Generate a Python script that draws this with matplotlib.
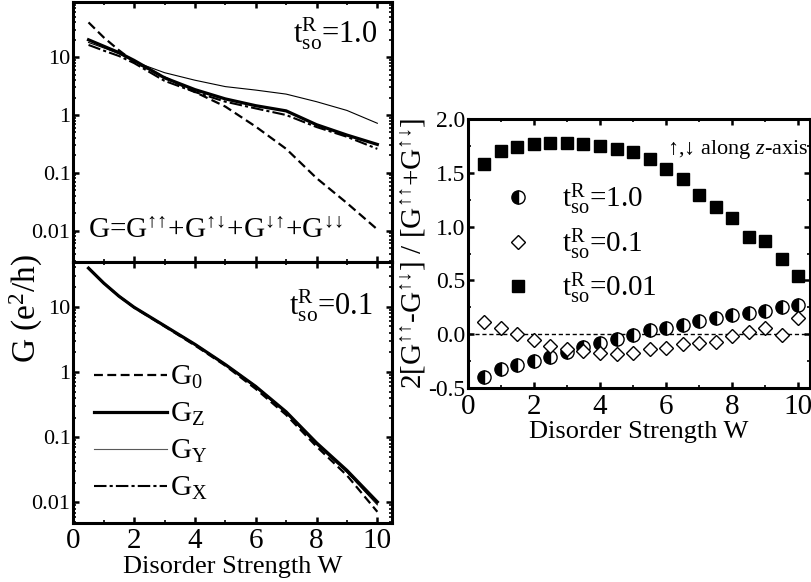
import matplotlib
matplotlib.use('Agg')
import matplotlib.pyplot as plt
import numpy as np
from matplotlib.ticker import FixedLocator, MultipleLocator, LogLocator, NullFormatter

plt.rcParams['font.family'] = 'Liberation Serif'
plt.rcParams['mathtext.fontset'] = 'custom'
plt.rcParams['mathtext.rm'] = 'Liberation Serif'
plt.rcParams['mathtext.it'] = 'Liberation Serif:italic'
plt.rcParams['mathtext.bf'] = 'Liberation Serif:bold'
plt.rcParams['axes.unicode_minus'] = False

# ---- left panels: conductance vs disorder ----
w_curve = [0.5, 1.0, 1.5, 2.0, 3.0, 4.0, 5.0, 6.0, 7.0, 8.0, 9.0, 10.0]

# t_so^R = 1.0
top_g0 = [40, 22, 13.2, 8.3, 4.5, 2.5, 1.4, 0.63, 0.26, 0.081, 0.03, 0.0105]
top_gz = [20, 15.5, 12, 8.8, 4.4, 2.75, 1.9, 1.45, 1.18, 0.68, 0.45, 0.31]
top_gy = [18, 14.5, 11.5, 8.4, 5.4, 4.0, 3.1, 2.7, 2.3, 1.7, 1.2, 0.72]
top_gx = [16.3, 13, 10.5, 7.9, 3.9, 2.5, 1.7, 1.3, 1.0, 0.62, 0.42, 0.26]

# t_so^R = 0.1
bot_g0 = [39, 23, 14.5, 9.7, 5.0, 2.55, 1.25, 0.55, 0.22, 0.072, 0.026, 0.0072]
bot_gz = [39, 23, 14.5, 9.8, 5.1, 2.65, 1.3, 0.6, 0.245, 0.082, 0.031, 0.0102]
bot_gy = [39, 23, 14.5, 9.8, 5.05, 2.6, 1.28, 0.58, 0.235, 0.077, 0.029, 0.0092]
bot_gx = [39, 23, 14.5, 9.8, 5.1, 2.65, 1.3, 0.6, 0.24, 0.08, 0.03, 0.0098]

# ---- right panel: spin polarisation ----
w_pts = [0.5, 1.0, 1.5, 2.0, 2.5, 3.0, 3.5, 4.0, 4.5, 5.0,
         5.5, 6.0, 6.5, 7.0, 7.5, 8.0, 8.5, 9.0, 9.5, 10.0]
p_t10 = [-0.40, -0.32, -0.285, -0.25, -0.21, -0.165, -0.115, -0.08, -0.04, -0.005,
         0.04, 0.06, 0.09, 0.125, 0.15, 0.175, 0.20, 0.22, 0.25, 0.27]
p_t01 = [0.115, 0.06, 0.0, -0.055, -0.11, -0.14, -0.155, -0.17, -0.18, -0.17,
         -0.14, -0.13, -0.095, -0.08, -0.07, -0.015, 0.025, 0.055, -0.005, 0.155]
p_t001 = [1.58, 1.705, 1.74, 1.767, 1.78, 1.78, 1.767, 1.75, 1.72, 1.69,
          1.63, 1.535, 1.44, 1.29, 1.185, 1.08, 0.90, 0.87, 0.70, 0.545]

fig = plt.figure(figsize=(8.12, 5.82), dpi=100)

ax_top = fig.add_axes([0.0903, 0.5503, 0.392, 0.4462])
ax_bot = fig.add_axes([0.0903, 0.1019, 0.392, 0.4485])
ax_r = fig.add_axes([0.576, 0.3333, 0.4215, 0.4622])


def style_log_axis(ax, ylo, yhi):
    ax.set_yscale('log')
    ax.set_xlim(0, 10.47)
    ax.set_ylim(ylo, yhi)
    ax.yaxis.set_major_locator(FixedLocator([0.01, 0.1, 1, 10]))
    ax.set_yticklabels(['0.01', '0.1', '1', '10'])
    ax.yaxis.set_minor_locator(LogLocator(base=10, subs=np.arange(2, 10)))
    ax.yaxis.set_minor_formatter(NullFormatter())
    ax.xaxis.set_major_locator(MultipleLocator(2))
    ax.xaxis.set_minor_locator(MultipleLocator(1))
    ax.tick_params(which='both', direction='in', top=True, right=True)
    ax.tick_params(which='major', length=4, width=1.8)
    ax.tick_params(which='minor', length=2.5, width=1.2)
    ax.tick_params(axis='y', labelsize=16, pad=2)
    ax.tick_params(axis='x', labelsize=21, pad=4)
    for s in ax.spines.values():
        s.set_linewidth(2.2)


def draw_curves(ax, g0, gz, gy, gx):
    ax.plot(w_curve, g0, color='black', lw=1.6, ls=(0, (4, 2)), label=r'G$_\mathrm{0}$')
    ax.plot(w_curve, gz, color='black', lw=2.3, label=r'G$_\mathrm{Z}$')
    ax.plot(w_curve, gy, color='black', lw=0.8, label=r'G$_\mathrm{Y}$')
    ax.plot(w_curve, gx, color='black', lw=1.5, ls=(0, (6, 1.5, 1.5, 1.5)), label=r'G$_\mathrm{X}$')


tso = r'$\mathrm{t}_{\mathrm{so}}^{\mathrm{R}}$'

style_log_axis(ax_top, 0.0029, 90)
draw_curves(ax_top, top_g0, top_gz, top_gy, top_gx)
ax_top.tick_params(axis='x', labelbottom=False)
ax_top.text(0.955, 0.95, tso + '=1.0', transform=ax_top.transAxes,
            ha='right', va='top', fontsize=22)
ax_top.text(0.045, 0.09, 'G=G$^{↑↑}$+G$^{↑↓}$+G$^{↓↑}$+G$^{↓↓}$',
            transform=ax_top.transAxes, ha='left', va='baseline', fontsize=21)

style_log_axis(ax_bot, 0.0049, 49)
draw_curves(ax_bot, bot_g0, bot_gz, bot_gy, bot_gx)
ax_bot.text(0.94, 0.90, tso + '=0.1', transform=ax_bot.transAxes,
            ha='right', va='top', fontsize=22)
ax_bot.set_xlabel('Disorder Strength W', fontsize=19, labelpad=1)
leg = ax_bot.legend(loc='lower left', bbox_to_anchor=(0.0, 0.0), frameon=False, fontsize=21,
                    handlelength=2.5, handletextpad=0.1, labelspacing=0.34, borderaxespad=0.3)
leg.get_lines()[2].set_color('0.35')

fig.text(0.032, 0.47, r'G (e$^2$/h)', rotation=90, ha='center', va='center', fontsize=24)

# right panel
ax_r.axhline(0.0, color='black', lw=1.0, ls=(0, (3, 2)))
ax_r.plot(w_pts, p_t10, ls='none', marker='o', ms=9.5, fillstyle='left',
          markerfacecolor='black', markerfacecoloralt='white', markeredgecolor='black', mew=1.0,
          label=tso + '=1.0')
ax_r.plot(w_pts, p_t01, ls='none', marker='D', ms=6.8, markerfacecolor='white',
          markeredgecolor='black', mew=1.0, label=tso + '=0.1')
ax_r.plot(w_pts, p_t001, ls='none', marker='s', ms=8.5, color='black',
          label=tso + '=0.01')
ax_r.set_xlim(0, 10.35)
ax_r.set_ylim(-0.5, 2.0)
ax_r.xaxis.set_major_locator(MultipleLocator(2))
ax_r.xaxis.set_minor_locator(MultipleLocator(1))
ax_r.yaxis.set_major_locator(MultipleLocator(0.5))
ax_r.yaxis.set_minor_locator(MultipleLocator(0.25))
ax_r.yaxis.set_major_formatter(matplotlib.ticker.FormatStrFormatter('%.1f'))
ax_r.tick_params(which='both', direction='in', top=True, right=True)
ax_r.tick_params(which='major', length=4, width=1.8)
ax_r.tick_params(which='minor', length=2.5, width=1.2)
ax_r.tick_params(axis='y', labelsize=17, pad=2)
ax_r.tick_params(axis='x', labelsize=21, pad=4)
for s in ax_r.spines.values():
    s.set_linewidth(2.2)
ax_r.set_xlabel('Disorder Strength W', fontsize=19, labelpad=1)
ax_r.set_ylabel('2[G$^{↑↑}$-G$^{↑↓}$] / [G$^{↑↑}$+G$^{↑↓}$]', fontsize=21, labelpad=0)
ax_r.text(0.995, 0.885, '↑,↓ along $z$-axis', transform=ax_r.transAxes,
          ha='right', va='center', fontsize=16)
ax_r.legend(loc='upper left', bbox_to_anchor=(0.07, 0.81), frameon=False, fontsize=21,
            handlelength=1.0, handletextpad=1.0, labelspacing=0.3, borderaxespad=0.0)

fig.savefig('out.png', dpi=100)
